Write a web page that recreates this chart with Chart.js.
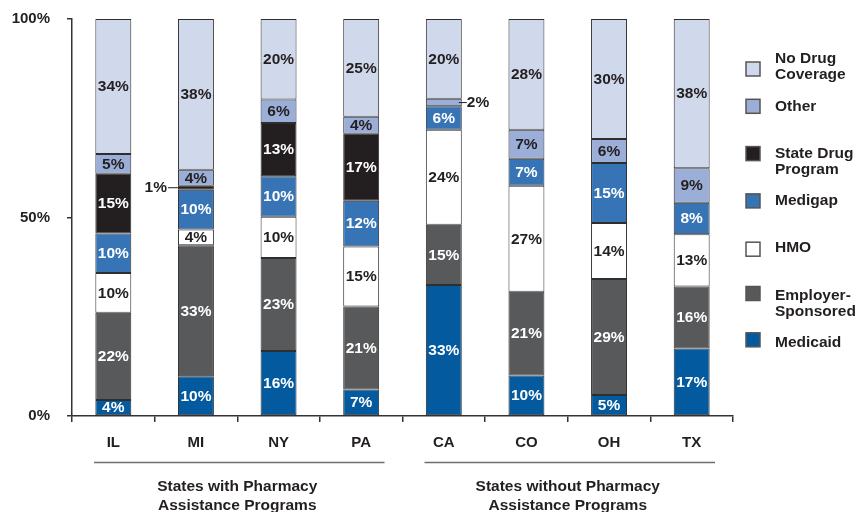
<!DOCTYPE html>
<html><head><meta charset="utf-8">
<script src="https://cdn.jsdelivr.net/npm/chart.js@4/dist/chart.umd.min.js"></script>
<style>html,body{margin:0;padding:0;background:#fff;} canvas{display:block;}</style>
</head><body>
<canvas id="c" width="861" height="512" style="width:861px;height:512px"></canvas>
<script>
// ---- data ----
const states = ['IL','MI','NY','PA','CA','CO','OH','TX'];
const groupNames = [['States with Pharmacy','Assistance Programs'], ['States without Pharmacy','Assistance Programs']];
const groupSizes = [4, 4];
const yTicks = [0, 50, 100];
const medicaid  = [4, 10, 16.4, 6.7, 33, 10.2, 5.3, 17.0];
const employer  = [22, 33, 23.4, 20.9, 15.2, 21.1, 29.2, 15.6];
const hmo       = [10, 4, 10.4, 15.1, 23.9, 26.7, 14.1, 13.2];
const medigap   = [10, 10, 10.2, 11.5, 5.9, 6.8, 15.1, 7.9];
const stateDrug = [15, 1, 13.4, 16.9, null, null, null, null];
const other     = [5, 4, 5.9, 4.3, 1.9, 7.3, 6.1, 8.7];
const noDrug    = [34, 38, 20.3, 24.6, 20.1, 27.9, 30.2, 37.6];

const FONT = '"Liberation Sans", Arial, Helvetica, sans-serif';
const DARK = '#231F20';

const seriesDefs = [
  {label: 'Medicaid', legend: ['Medicaid'], data: medicaid, color: '#045A9E', text: '#fff'},
  {label: 'Employer-Sponsored', legend: ['Employer-', 'Sponsored'], data: employer, color: '#58595B', text: '#fff'},
  {label: 'HMO', legend: ['HMO'], data: hmo, color: '#FFFFFF', text: DARK},
  {label: 'Medigap', legend: ['Medigap'], data: medigap, color: '#3674B5', text: '#fff'},
  {label: 'State Drug Program', legend: ['State Drug', 'Program'], data: stateDrug, color: '#231F20', text: '#fff'},
  {label: 'Other', legend: ['Other'], data: other, color: '#9AAED7', text: DARK},
  {label: 'No Drug Coverage', legend: ['No Drug', 'Coverage'], data: noDrug, color: '#D0D9EB', text: DARK}
];

const datasets = seriesDefs.map(s => ({
  label: s.label,
  data: s.data,
  backgroundColor: s.color,
  borderColor: '#2E2E2E',
  borderWidth: 1,
  borderSkipped: false,
  barPercentage: 0.435,
  categoryPercentage: 1.0
}));

const valueLabels = {
  id: 'valueLabels',
  afterDatasetsDraw(chart) {
    const ctx = chart.ctx;
    ctx.save();
    ctx.font = 'bold 15.5px ' + FONT;
    ctx.textBaseline = 'middle';
    chart.data.datasets.forEach((ds, i) => {
      const meta = chart.getDatasetMeta(i);
      meta.data.forEach((el, j) => {
        const v = ds.data[j];
        if (v === null || v === undefined) return;
        const p = el.getProps(['x', 'y', 'base', 'width'], true);
        const cy = (p.y + p.base) / 2;
        const txt = Math.round(v) + '%';
        if (v >= 3) {
          ctx.fillStyle = seriesDefs[i].text;
          ctx.textAlign = 'center';
          ctx.fillText(txt, p.x, cy + 0.5);
        } else {
          ctx.fillStyle = DARK;
          ctx.strokeStyle = DARK;
          ctx.lineWidth = 1;
          const left = p.x - p.width / 2, right = p.x + p.width / 2;
          ctx.beginPath();
          if (j < groupSizes[0]) {
            ctx.moveTo(left - 10, cy); ctx.lineTo(left, cy); ctx.stroke();
            ctx.textAlign = 'right';
            ctx.fillText(txt, left - 11, cy);
          } else {
            ctx.moveTo(right - 3, cy); ctx.lineTo(right + 5, cy); ctx.stroke();
            ctx.textAlign = 'left';
            ctx.fillText(txt, right + 5, cy);
          }
        }
      });
    });
    ctx.restore();
  }
};

const sideLegend = {
  id: 'sideLegend',
  afterDraw(chart) {
    const ctx = chart.ctx, a = chart.chartArea;
    ctx.save();
    ctx.font = 'bold 15.5px ' + FONT;
    ctx.textBaseline = 'middle';
    ctx.textAlign = 'left';
    const order = seriesDefs.slice().reverse();
    const sqOffset = [10, 0, 0, 0, 1, -2, -3];
    order.forEach((s, k) => {
      const cy = a.top + 40 + k * 47.3;
      const sy = cy + sqOffset[k];
      ctx.fillStyle = s.color;
      ctx.fillRect(a.right + 13, sy - 7, 14, 14);
      ctx.strokeStyle = '#555';
      ctx.lineWidth = 1.5;
      ctx.strokeRect(a.right + 13, sy - 7, 14, 14);
      ctx.fillStyle = DARK;
      s.legend.forEach((ln, m) => ctx.fillText(ln, a.right + 42, cy + m * 16));
    });
    ctx.restore();
  }
};

const groupAxis = {
  id: 'groupAxis',
  afterDraw(chart) {
    const ctx = chart.ctx, a = chart.chartArea;
    const catW = (a.right - a.left) / states.length;
    ctx.save();
    let start = 0;
    groupSizes.forEach((n, g) => {
      const left = a.left + start * catW, right = a.left + (start + n) * catW;
      ctx.strokeStyle = '#6D6E71';
      ctx.lineWidth = 1.5;
      ctx.beginPath();
      ctx.moveTo(left + 22, a.bottom + 46.5);
      ctx.lineTo(right - 18, a.bottom + 46.5);
      ctx.stroke();
      ctx.fillStyle = DARK;
      ctx.font = 'bold 15.5px ' + FONT;
      ctx.textAlign = 'center';
      ctx.textBaseline = 'middle';
      groupNames[g].forEach((ln, m) => ctx.fillText(ln, (left + right) / 2, a.bottom + 70.5 + m * 19));
      start += n;
    });
    ctx.restore();
  }
};

new Chart(document.getElementById('c'), {
  type: 'bar',
  data: { labels: states, datasets },
  options: {
    responsive: false,
    devicePixelRatio: 1,
    animation: false,
    layout: { padding: { left: 0, right: 128, top: 19, bottom: 0 } },
    plugins: { legend: { display: false }, tooltip: { enabled: false } },
    scales: {
      x: {
        stacked: true,
        afterFit(s) { s.height = 96; s.paddingLeft = 0; s.paddingRight = 0; },
        grid: { offset: true, drawOnChartArea: false, drawTicks: true, tickLength: 6, color: '#333', lineWidth: 1.5 },
        border: { display: true, color: '#333', width: 1.5 },
        ticks: { color: DARK, font: { family: FONT, size: 15, weight: 'bold' }, padding: 12 }
      },
      y: {
        stacked: true,
        min: 0, max: 100,
        afterFit(s) { s.width = 72; s.paddingTop = 0; s.paddingBottom = 0; },
        afterBuildTicks(s) { s.ticks = yTicks.map(v => ({ value: v })); },
        grid: { drawOnChartArea: false, drawTicks: true, tickLength: 5, color: '#333', lineWidth: 1.5 },
        border: { display: true, color: '#333', width: 1.5 },
        ticks: { color: DARK, font: { family: FONT, size: 15, weight: 'bold' }, padding: 17, callback: v => v + '%' }
      }
    }
  },
  plugins: [valueLabels, sideLegend, groupAxis]
});
</script>
</body></html>
